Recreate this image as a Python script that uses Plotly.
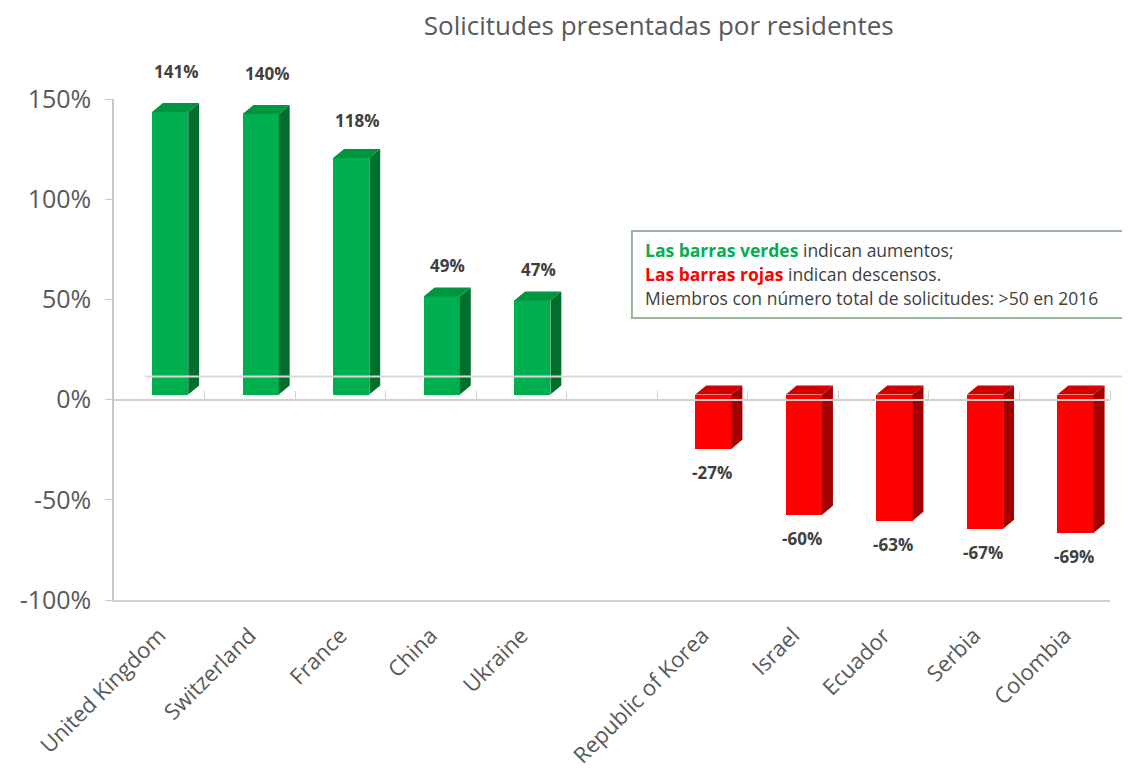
import plotly.graph_objects as go

# data
countries = ["United Kingdom", "Switzerland", "France", "China", "Ukraine", "",
             "Republic of Korea", "Israel", "Ecuador", "Serbia", "Colombia"]
growth = [141, 140, 118, 49, 47, None, -27, -60, -63, -67, -69]
title_text = "Solicitudes presentadas por residentes"
y_ticks = [-100, -50, 0, 50, 100, 150]
y_labels = ["-100%", "-50%", "0%", "50%", "100%", "150%"]

# 3d look
BASE = 2.5      # front face sits slightly above the axis line
W = 0.4         # bar width (category units)
OFF = -0.08     # left edge relative to category centre
DX = 0.12       # depth, x (category units)
DY = 4.5        # depth, y (percent units)

GREEN, GREEN_SIDE, GREEN_TOP = "#00B050", "#006E2C", "#00963F"
RED, RED_SIDE, RED_TOP = "#FF0000", "#A50000", "#D20000"
GREY = "#595959"
FONT = "Open Sans"

idx = list(range(len(countries)))
pos = [(i, v) for i, v in zip(idx, growth) if v is not None and v >= 0]
neg = [(i, v) for i, v in zip(idx, growth) if v is not None and v < 0]


def faces(items):
    sx, sy, tx, ty = [], [], [], []
    for i, v in items:
        L, R = i + OFF, i + OFF + W
        lo, hi = (BASE, BASE + v) if v >= 0 else (BASE + v, BASE)
        sx += [R, R + DX, R + DX, R, R, None]
        sy += [lo, lo + DY, hi + DY, hi, lo, None]
        tx += [L, L + DX, R + DX, R, L, None]
        ty += [hi, hi + DY, hi + DY, hi, hi, None]
    return sx, sy, tx, ty


fig = go.Figure()

for items, front, side, top in [(pos, GREEN, GREEN_SIDE, GREEN_TOP),
                                (neg, RED, RED_SIDE, RED_TOP)]:
    xs = [i for i, _ in items]
    ys = [v for _, v in items]
    fig.add_trace(go.Bar(x=xs, y=ys, base=BASE, width=W, offset=OFF,
                         marker=dict(color=front, line=dict(width=0)),
                         showlegend=False, hoverinfo="skip"))
    sx, sy, tx, ty = faces(items)
    fig.add_trace(go.Scatter(x=sx, y=sy, fill="toself", fillcolor=side, mode="lines",
                             line=dict(width=0, color=side), showlegend=False, hoverinfo="skip"))
    fig.add_trace(go.Scatter(x=tx, y=ty, fill="toself", fillcolor=top, mode="lines",
                             line=dict(width=0, color=top), showlegend=False, hoverinfo="skip"))

# zero-line category axis with boundary ticks
fig.add_trace(go.Scatter(x=[None], y=[None], xaxis="x2", showlegend=False))

# value labels (perspective pushes the taller ones a little higher)
for i, v in pos:
    fig.add_annotation(x=i, y=v, text=f"<b>{v}%</b>", showarrow=False, xshift=17,
                       yanchor="bottom", yshift=17 + 0.107 * v,
                       font=dict(family=FONT, size=17, color="#404040"))
for i, v in neg:
    fig.add_annotation(x=i, y=v, text=f"<b>{v}%</b>", showarrow=False, xshift=9,
                       yanchor="top", yshift=-5, font=dict(family=FONT, size=17, color="#404040"))

# back floor line
fig.add_shape(type="line", xref="paper", yref="y", x0=0.031, x1=1.03, y0=11.5, y1=11.5,
              line=dict(color="#D9D9D9", width=2))

# note box
fig.add_shape(type="rect", xref="paper", yref="paper", x0=0.52, x1=1.03, y0=0.563, y1=0.7365,
              line=dict(color="#9BB59B", width=2), fillcolor="white", layer="below")
notes = [
    f"<b><span style='color:{GREEN}'>Las barras verdes</span></b> indican aumentos;",
    f"<b><span style='color:{RED}'>Las barras rojas</span></b> indican descensos.",
    "Miembros con número total de solicitudes: >50 en 2016",
]
for k, t in enumerate(notes):
    fig.add_annotation(xref="paper", yref="paper", x=0.531, y=0.6986 - k * 0.0475, text=t,
                       xanchor="left", yanchor="middle", showarrow=False, align="left",
                       font=dict(family=FONT, size=17.5, color="#404040"))

# page body adds ~8px around the figure, so size and margins allow for it
fig.update_layout(
    width=1122, height=761,
    margin=dict(l=106, r=20, t=91, b=169),
    paper_bgcolor="white", plot_bgcolor="white",
    font=dict(family=FONT, color=GREY),
    title=dict(text=title_text, x=0.58, xanchor="center", y=0.988, yanchor="top",
               font=dict(family=FONT, size=26, color=GREY)),
    bargap=0,
    xaxis=dict(range=[-0.5, 10.5], tickvals=idx, ticktext=countries, tickangle=-45,
               automargin=False, ticklabelstandoff=12,
               showgrid=False, zeroline=False, showline=True, linecolor="#D0D0D0", linewidth=2,
               ticks="", tickfont=dict(family=FONT, size=22, color=GREY)),
    xaxis2=dict(range=[-0.5, 10.5], overlaying="x", anchor="free", position=0.4, side="top",
                automargin=False,
                showline=True, linecolor="#D0D0D0", linewidth=2, showgrid=False, zeroline=False,
                tickvals=[i + 0.5 for i in idx], ticks="outside", ticklen=8, tickcolor="#D0D0D0",
                showticklabels=False),
    yaxis=dict(range=[-100, 150], tickvals=y_ticks, ticktext=y_labels, showgrid=False,
               automargin=False, ticklabelstandoff=9,
               zeroline=False, showline=True, linecolor="#C8C8C8", linewidth=1.5,
               ticks="outside", ticklen=7, tickcolor="#C8C8C8",
               tickfont=dict(family=FONT, size=25, color=GREY)),
)

fig.write_html("out.html")
